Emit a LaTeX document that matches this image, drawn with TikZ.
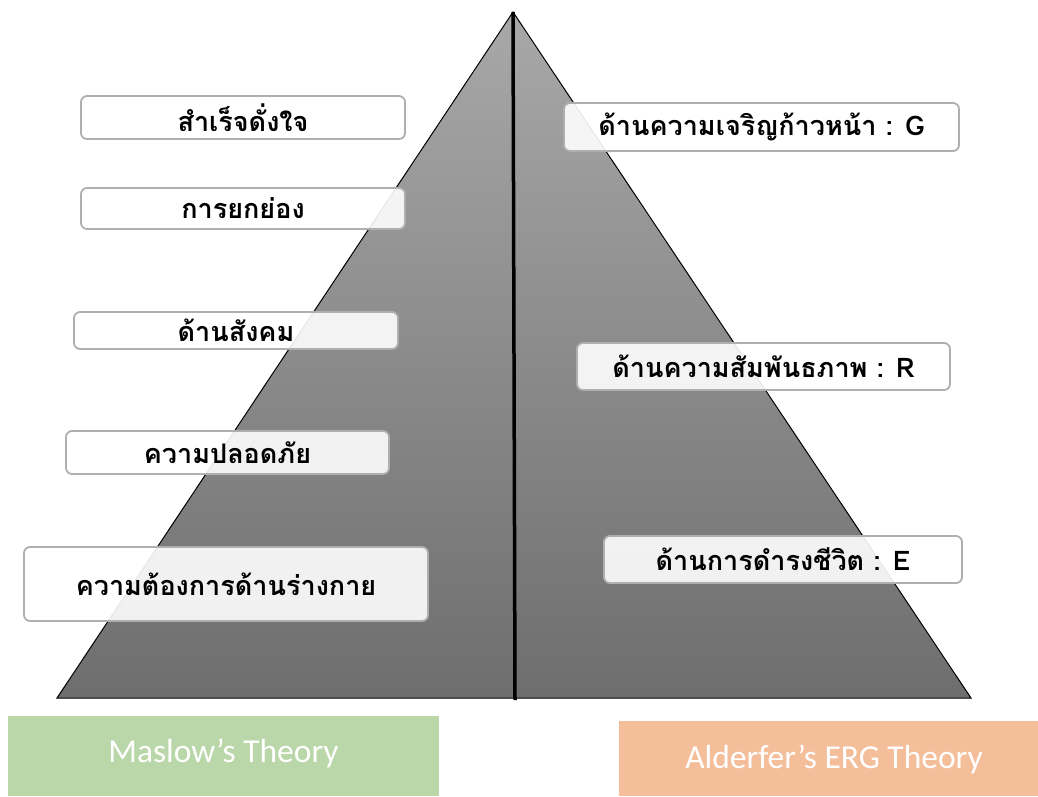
\documentclass[tikz,border=0pt]{standalone}
\usepackage{fontspec}
\newfontfamily\thaifont[Script=Thai]{Loma}
\newfontfamily\labfont{Carlito}
\definecolor{triTop}{HTML}{A8A8A8}
\definecolor{triBot}{HTML}{6E6E6E}
\definecolor{boxLine}{HTML}{AFAFAF}
\definecolor{greenBox}{HTML}{B9D7A8}
\definecolor{orangeBox}{HTML}{F5BE9A}
\begin{document}
\begin{tikzpicture}[x=1pt,y=-1pt,
  thbox/.style={draw=boxLine, line width=1.8pt, rounded corners=6pt, fill=white,
    fill opacity=0.9, text opacity=1, inner sep=0pt,
    font=\thaifont\bfseries\fontsize{27}{31}\selectfont},
  theory/.style={inner sep=0pt, text=white, font=\labfont\fontsize{33.5}{38}\selectfont}]
\useasboundingbox (0,0) rectangle (1038,796);
\coordinate (apex) at (513,12);
\coordinate (bl) at (57,698);
\coordinate (br) at (971,698);
\coordinate (base) at (515,700);
\shadedraw[top color=triTop, bottom color=triBot, draw=black, line width=1pt]
  (apex) -- (br) -- (bl) -- cycle;
\draw[line width=3.5pt] (apex) -- (base);
% Maslow boxes
\node[thbox, minimum width=324pt, minimum height=43pt] (m5) at (243,117.5) {สำเร็จดั่งใจ};
\node[thbox, minimum width=324pt, minimum height=41pt] (m4) at (243,208.5) {การยกย่อง};
\node[thbox, minimum width=324pt, minimum height=37pt] (m3) at (236,330.5) {ด้านสังคม};
\node[thbox, minimum width=323pt, minimum height=43pt] (m2) at (227.5,452.5) {ความปลอดภัย};
\node[thbox, minimum width=404pt, minimum height=74pt] (m1) at (226,584) {ความต้องการด้านร่างกาย};
% ERG boxes
\node[thbox, minimum width=395pt, minimum height=48pt] (g) at (761.5,127) {ด้านความเจริญก้าวหน้า : G};
\node[thbox, minimum width=373pt, minimum height=47pt] (r) at (763.5,366.5) {ด้านความสัมพันธภาพ : R};
\node[thbox, minimum width=358pt, minimum height=47pt] (e) at (783,559.5) {ด้านการดำรงชีวิต : E};
% theory labels
\fill[greenBox] (8,716) rectangle (439,796);
\fill[orangeBox] (619,721) rectangle (1038,796);
\node[theory] (maslow) at (223.5,753) {Maslow’s Theory};
\node[theory] (alderfer) at (834,759) {Alderfer’s ERG Theory};
\end{tikzpicture}
\end{document}
